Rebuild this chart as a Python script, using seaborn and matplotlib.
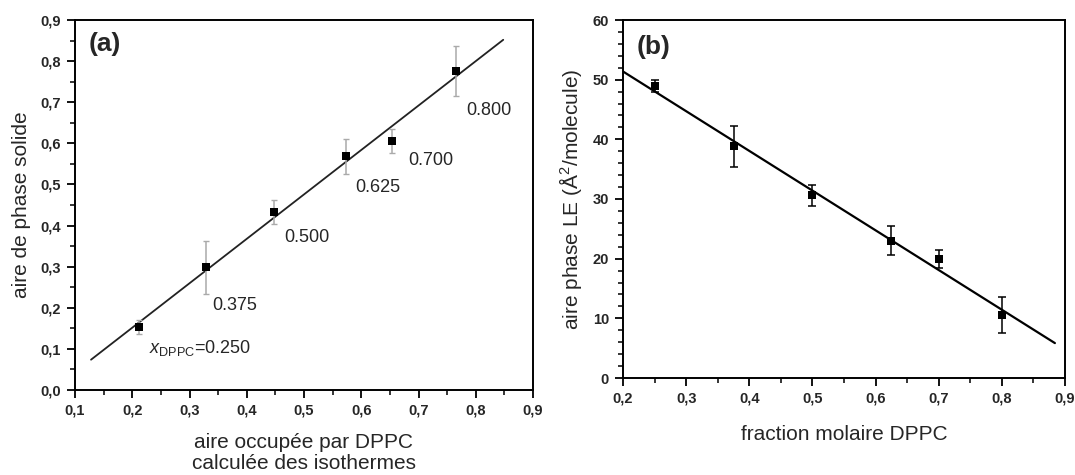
import matplotlib
matplotlib.use("Agg")
import matplotlib.pyplot as plt
import matplotlib.ticker as mticker
import numpy as np
import pandas as pd
import seaborn as sns

# panel (a): solid phase area vs DPPC area computed from isotherms
area_dppc = [0.212, 0.328, 0.448, 0.574, 0.654, 0.765]
area_solid = [0.154, 0.298, 0.432, 0.568, 0.606, 0.776]
err_solid = [0.017, 0.065, 0.029, 0.043, 0.029, 0.061]
x_dppc_labels = ["0.250", "0.375", "0.500", "0.625", "0.700", "0.800"]
label_x = [0.2285, 0.340, 0.466, 0.589, 0.682, 0.784]
label_y = [0.103, 0.205, 0.372, 0.493, 0.559, 0.680]
fit_range_a = [0.128, 0.848]

# panel (b): LE phase area vs DPPC mole fraction
frac_dppc = [0.25, 0.375, 0.5, 0.625, 0.7, 0.8]
area_le = [48.9, 38.8, 30.6, 23.0, 19.9, 10.6]
err_le = [1.0, 3.5, 1.8, 2.4, 1.5, 3.0]
fit_range_b = [0.2, 0.884]

sns.set_theme(style="ticks")
plt.rcParams['font.family'] = ['Liberation Sans', 'DejaVu Sans']
plt.rcParams['mathtext.fontset'] = 'custom'
plt.rcParams['mathtext.rm'] = 'Liberation Sans'
plt.rcParams['mathtext.it'] = 'Liberation Sans:italic'
plt.rcParams['mathtext.bf'] = 'Liberation Sans:bold'

df_a = pd.DataFrame({'x': area_dppc, 'y': area_solid})
df_b = pd.DataFrame({'x': frac_dppc, 'y': area_le})

fig = plt.figure(figsize=(10.75, 4.75), dpi=100)
ax1 = fig.add_axes([75 / 1075, 85 / 475, 458 / 1075, 370 / 475])
ax2 = fig.add_axes([623 / 1075, 97 / 475, 442 / 1075, 358 / 475])

comma = mticker.FuncFormatter(lambda v, p: f"{v:.1f}".replace('.', ','))


def style_axis(ax):
    for s in ax.spines.values():
        s.set_linewidth(1.4)
        s.set_color('black')
    ax.tick_params(which='major', direction='out', length=6, width=1.3,
                   color='black', pad=4, top=False, right=False, labelsize=10.5)
    ax.tick_params(which='minor', direction='out', length=3.5, width=1.1,
                   color='black', top=False, right=False)
    for lab in ax.get_xticklabels() + ax.get_yticklabels():
        lab.set_fontweight('bold')


# ---- (a)
slope, icpt = np.polyfit(area_dppc, area_solid, 1)
fx = np.array(fit_range_a)
sns.lineplot(x=fx, y=slope * fx + icpt, ax=ax1, color='#222222', linewidth=1.3)
ax1.errorbar(area_dppc, area_solid, yerr=err_solid, fmt='none', ecolor='#aaaaaa',
             elinewidth=1.1, capsize=2.5, capthick=1.0)
sns.scatterplot(data=df_a, x='x', y='y', ax=ax1, marker='s', s=30, color='black',
                linewidth=0, zorder=5)
for i, (lx, ly, t) in enumerate(zip(label_x, label_y, x_dppc_labels)):
    txt = t if i > 0 else r"$x_{\mathrm{DPPC}}$=" + t
    ax1.text(lx, ly, txt, fontsize=13, ha='left', va='center')
ax1.text(0.03, 0.935, "(a)", transform=ax1.transAxes, fontsize=19,
         fontweight='bold', ha='left', va='center')
ax1.set_xlim(0.1, 0.9)
ax1.set_ylim(0.0, 0.9)
ax1.xaxis.set_major_locator(mticker.MultipleLocator(0.1))
ax1.xaxis.set_minor_locator(mticker.MultipleLocator(0.05))
ax1.yaxis.set_major_locator(mticker.MultipleLocator(0.1))
ax1.yaxis.set_minor_locator(mticker.MultipleLocator(0.05))
ax1.xaxis.set_major_formatter(comma)
ax1.yaxis.set_major_formatter(comma)
ax1.set_xlabel("aire occupée par DPPC\ncalculée des isothermes", fontsize=15,
               labelpad=11, linespacing=1.15)
ax1.set_ylabel("aire de phase solide", fontsize=15, labelpad=7)
style_axis(ax1)

# ---- (b)
slope_b, icpt_b = np.polyfit(frac_dppc, area_le, 1)
fxb = np.array(fit_range_b)
sns.lineplot(x=fxb, y=slope_b * fxb + icpt_b, ax=ax2, color='black', linewidth=1.6)
ax2.errorbar(frac_dppc, area_le, yerr=err_le, fmt='none', ecolor='black',
             elinewidth=1.1, capsize=3, capthick=1.1)
sns.scatterplot(data=df_b, x='x', y='y', ax=ax2, marker='s', s=30, color='black',
                linewidth=0, zorder=5)
ax2.text(0.03, 0.925, "(b)", transform=ax2.transAxes, fontsize=19,
         fontweight='bold', ha='left', va='center')
ax2.set_xlim(0.2, 0.9)
ax2.set_ylim(0, 60)
ax2.xaxis.set_major_locator(mticker.MultipleLocator(0.1))
ax2.xaxis.set_minor_locator(mticker.MultipleLocator(0.05))
ax2.yaxis.set_major_locator(mticker.MultipleLocator(10))
ax2.yaxis.set_minor_locator(mticker.MultipleLocator(2))
ax2.xaxis.set_major_formatter(comma)
ax2.set_xlabel("fraction molaire DPPC", fontsize=15, labelpad=14)
ax2.set_ylabel(r"aire phase LE (Å$^{2}$/molecule)", fontsize=15, labelpad=6)
style_axis(ax2)

fig.savefig("out.png", dpi=100)
